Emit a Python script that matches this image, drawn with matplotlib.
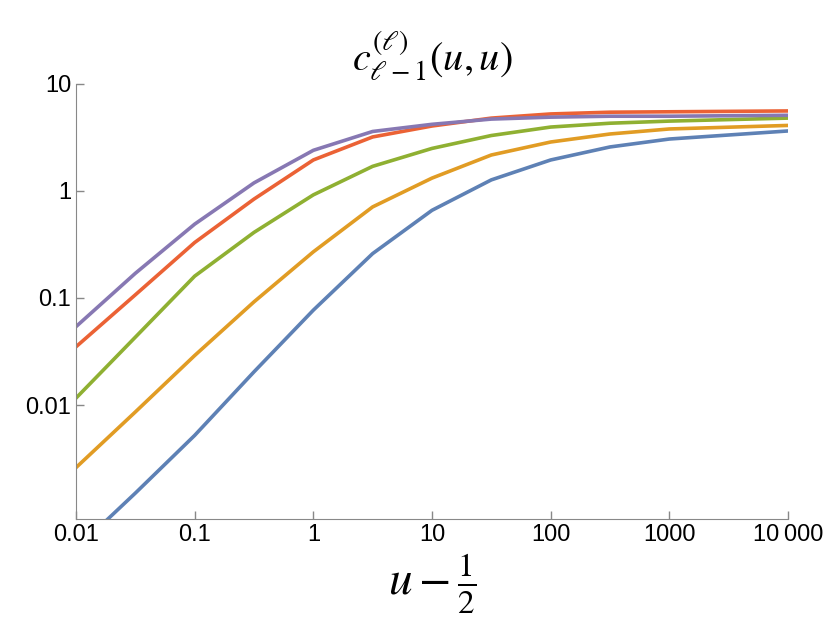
import matplotlib
matplotlib.use("Agg")
import matplotlib.pyplot as plt
from matplotlib.ticker import FixedLocator, NullLocator

x = [0.01, 0.0316, 0.1, 0.316, 1, 3.16, 10, 31.6, 100, 316, 1000, 10000]
blue   = [0.00045, 0.0015, 0.0052, 0.0204, 0.077, 0.26, 0.66, 1.27, 1.95, 2.58, 3.06, 3.64]
orange = [0.0026, 0.0086, 0.029, 0.092, 0.27, 0.71, 1.32, 2.17, 2.87, 3.41, 3.8, 4.1]
green  = [0.0116, 0.043, 0.16, 0.41, 0.92, 1.7, 2.5, 3.3, 3.96, 4.3, 4.5, 4.8]
red    = [0.035, 0.107, 0.33, 0.84, 1.95, 3.2, 4.05, 4.8, 5.25, 5.45, 5.5, 5.6]
purple = [0.054, 0.17, 0.49, 1.19, 2.4, 3.6, 4.2, 4.7, 4.9, 5.0, 5.0, 5.1]
series = [blue, orange, green, red, purple]
colors = ["#5E81B5", "#E19C24", "#8FB032", "#EB6235", "#8778B3"]
xticks = [0.01, 0.1, 1, 10, 100, 1000, 10000]
xlabels = ["0.01", "0.1", "1", "10", "100", "1000", "10\u2009000"]
yticks = [0.01, 0.1, 1, 10]
ylabels = ["0.01", "0.1", "1", "10"]

plt.rcParams['font.family'] = ['Liberation Sans', 'DejaVu Sans']
plt.rcParams['mathtext.fontset'] = 'stix'
fig = plt.figure(figsize=(8.30, 6.39), dpi=100)
ax = fig.add_axes([76/830, 1-519/639, 712/830, 435/639])
for s, c in zip(series, colors):
    ax.plot(x, s, color=c, lw=2.6, solid_joinstyle='round')
ax.set_xscale('log'); ax.set_yscale('log')
ax.set_xlim(0.01, 10000)
ax.set_ylim(10**(-2-114/107), 10)
ax.xaxis.set_major_locator(FixedLocator(xticks)); ax.xaxis.set_minor_locator(NullLocator())
ax.yaxis.set_major_locator(FixedLocator(yticks)); ax.yaxis.set_minor_locator(NullLocator())
ax.set_xticklabels(xlabels, fontsize=17)
ax.set_yticklabels(ylabels, fontsize=17)
ax.tick_params(direction='in', length=6, width=1, color='#888888')
for sp in ['top', 'right']:
    ax.spines[sp].set_visible(False)
for sp in ['left', 'bottom']:
    ax.spines[sp].set_color('#888888')
ax.set_title(r'$c_{\ell-1}^{(\ell)}(u,u)$', fontsize=29, pad=10)
ax.set_xlabel(r'$u-\frac{1}{2}$', fontsize=34, labelpad=4)
fig.savefig("out.png", dpi=100)
